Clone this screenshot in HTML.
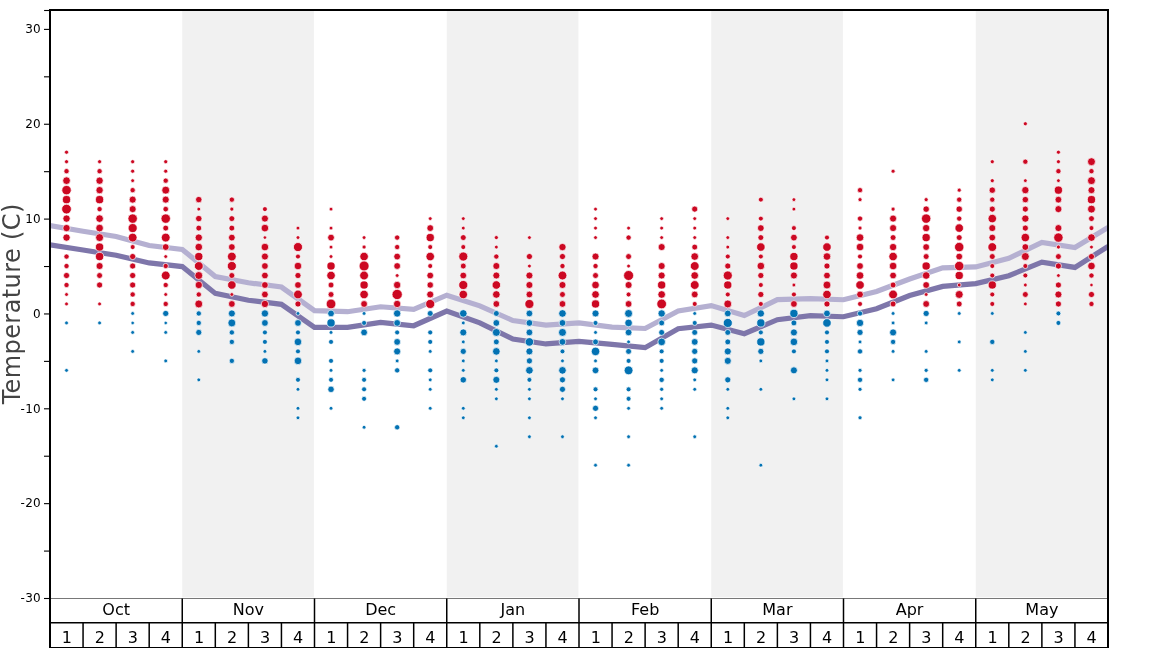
<!DOCTYPE html>
<html><head><meta charset="utf-8"><title>Temperature</title>
<style>html,body{margin:0;padding:0;background:#fff}svg{display:block}text{font-family:"DejaVu Sans","Liberation Sans",sans-serif}</style></head><body>
<svg width="1168" height="648" viewBox="0 0 1168 648">
<rect width="1168" height="648" fill="#fff"/>
<defs><clipPath id="ax"><rect x="50.00" y="10.00" width="1058.00" height="588.50"/></clipPath></defs>
<rect x="182.25" y="10.00" width="131.65" height="587.30" fill="#f1f1f1"/>
<rect x="446.75" y="10.00" width="131.65" height="587.30" fill="#f1f1f1"/>
<rect x="711.25" y="10.00" width="131.65" height="587.30" fill="#f1f1f1"/>
<rect x="975.75" y="10.00" width="131.65" height="587.30" fill="#f1f1f1"/>
<polyline clip-path="url(#ax)" points="50.00,225.58 83.06,231.27 116.12,236.49 149.19,245.50 182.25,249.39 215.31,276.51 248.38,282.77 281.44,287.04 314.50,310.56 347.56,311.70 380.62,306.77 413.69,309.43 446.75,295.20 479.81,305.82 512.88,320.52 545.94,325.17 579.00,322.90 612.06,327.07 645.12,328.49 678.19,311.04 711.25,305.63 744.31,315.59 777.38,299.66 810.44,298.61 843.50,299.75 876.56,291.50 909.62,279.07 942.69,267.79 975.75,266.93 1008.81,258.30 1041.88,242.46 1074.94,247.49 1108.00,227.57" fill="none" stroke="#b5b0d1" stroke-width="5.2" stroke-linejoin="miter"/>
<polyline clip-path="url(#ax)" points="50.00,244.83 83.06,250.05 116.12,255.27 149.19,262.95 182.25,266.55 215.31,293.40 248.38,300.23 281.44,304.30 314.50,327.35 347.56,327.35 380.62,322.33 413.69,325.74 446.75,311.04 479.81,322.80 512.88,339.11 545.94,343.95 579.00,341.39 612.06,344.33 645.12,347.65 678.19,328.78 711.25,325.08 744.31,333.71 777.38,319.67 810.44,315.59 843.50,316.73 876.56,308.76 909.62,295.58 942.69,286.38 975.75,283.63 1008.81,275.75 1041.88,262.19 1074.94,267.41 1108.00,246.35" fill="none" stroke="#7e76aa" stroke-width="5.2" stroke-linejoin="miter"/>
<g fill="#cc0822" stroke="#fff" stroke-width="0.7">
<circle cx="66.53" cy="152.20" r="2.03"/>
<circle cx="66.53" cy="161.69" r="2.03"/>
<circle cx="66.53" cy="171.18" r="2.62"/>
<circle cx="66.53" cy="180.66" r="3.80"/>
<circle cx="66.53" cy="190.14" r="4.69"/>
<circle cx="66.53" cy="199.63" r="4.10"/>
<circle cx="66.53" cy="209.12" r="4.84"/>
<circle cx="66.53" cy="218.60" r="3.65"/>
<circle cx="66.53" cy="228.08" r="3.65"/>
<circle cx="66.53" cy="237.57" r="3.65"/>
<circle cx="66.53" cy="256.54" r="2.62"/>
<circle cx="66.53" cy="266.02" r="2.62"/>
<circle cx="66.53" cy="275.51" r="3.06"/>
<circle cx="66.53" cy="285.00" r="2.62"/>
<circle cx="66.53" cy="294.48" r="1.88"/>
<circle cx="66.53" cy="303.96" r="1.88"/>
<circle cx="99.59" cy="161.69" r="2.03"/>
<circle cx="99.59" cy="171.18" r="2.62"/>
<circle cx="99.59" cy="180.66" r="3.65"/>
<circle cx="99.59" cy="190.14" r="3.65"/>
<circle cx="99.59" cy="199.63" r="4.10"/>
<circle cx="99.59" cy="209.12" r="2.62"/>
<circle cx="99.59" cy="218.60" r="3.80"/>
<circle cx="99.59" cy="228.08" r="3.80"/>
<circle cx="99.59" cy="237.57" r="3.95"/>
<circle cx="99.59" cy="247.06" r="4.10"/>
<circle cx="99.59" cy="256.54" r="4.10"/>
<circle cx="99.59" cy="266.02" r="3.51"/>
<circle cx="99.59" cy="275.51" r="2.92"/>
<circle cx="99.59" cy="285.00" r="3.06"/>
<circle cx="99.59" cy="303.96" r="1.88"/>
<circle cx="132.66" cy="161.69" r="2.03"/>
<circle cx="132.66" cy="171.18" r="2.03"/>
<circle cx="132.66" cy="180.66" r="1.88"/>
<circle cx="132.66" cy="190.14" r="2.62"/>
<circle cx="132.66" cy="199.63" r="3.51"/>
<circle cx="132.66" cy="209.12" r="3.51"/>
<circle cx="132.66" cy="218.60" r="4.69"/>
<circle cx="132.66" cy="228.08" r="4.54"/>
<circle cx="132.66" cy="237.57" r="4.39"/>
<circle cx="132.66" cy="247.06" r="2.47"/>
<circle cx="132.66" cy="256.54" r="3.06"/>
<circle cx="132.66" cy="266.02" r="3.06"/>
<circle cx="132.66" cy="275.51" r="3.06"/>
<circle cx="132.66" cy="285.00" r="3.06"/>
<circle cx="132.66" cy="294.48" r="2.62"/>
<circle cx="132.66" cy="303.96" r="2.62"/>
<circle cx="165.72" cy="161.69" r="2.03"/>
<circle cx="165.72" cy="171.18" r="2.03"/>
<circle cx="165.72" cy="180.66" r="2.62"/>
<circle cx="165.72" cy="190.14" r="3.95"/>
<circle cx="165.72" cy="199.63" r="3.51"/>
<circle cx="165.72" cy="209.12" r="2.77"/>
<circle cx="165.72" cy="218.60" r="4.69"/>
<circle cx="165.72" cy="228.08" r="2.92"/>
<circle cx="165.72" cy="237.57" r="4.39"/>
<circle cx="165.72" cy="247.06" r="3.36"/>
<circle cx="165.72" cy="256.54" r="1.88"/>
<circle cx="165.72" cy="266.02" r="2.62"/>
<circle cx="165.72" cy="275.51" r="4.39"/>
<circle cx="165.72" cy="285.00" r="2.62"/>
<circle cx="165.72" cy="294.48" r="1.88"/>
<circle cx="165.72" cy="303.96" r="2.62"/>
<circle cx="198.78" cy="199.63" r="3.21"/>
<circle cx="198.78" cy="209.12" r="1.88"/>
<circle cx="198.78" cy="218.60" r="3.21"/>
<circle cx="198.78" cy="228.08" r="2.92"/>
<circle cx="198.78" cy="237.57" r="3.65"/>
<circle cx="198.78" cy="247.06" r="3.80"/>
<circle cx="198.78" cy="256.54" r="4.10"/>
<circle cx="198.78" cy="266.02" r="4.39"/>
<circle cx="198.78" cy="275.51" r="3.95"/>
<circle cx="198.78" cy="285.00" r="3.65"/>
<circle cx="198.78" cy="294.48" r="2.62"/>
<circle cx="198.78" cy="303.96" r="3.95"/>
<circle cx="231.84" cy="199.63" r="2.62"/>
<circle cx="231.84" cy="209.12" r="2.03"/>
<circle cx="231.84" cy="218.60" r="2.92"/>
<circle cx="231.84" cy="228.08" r="2.92"/>
<circle cx="231.84" cy="237.57" r="3.36"/>
<circle cx="231.84" cy="247.06" r="3.36"/>
<circle cx="231.84" cy="256.54" r="4.39"/>
<circle cx="231.84" cy="266.02" r="4.54"/>
<circle cx="231.84" cy="275.51" r="2.92"/>
<circle cx="231.84" cy="285.00" r="4.24"/>
<circle cx="231.84" cy="294.48" r="1.88"/>
<circle cx="231.84" cy="303.96" r="3.36"/>
<circle cx="264.91" cy="209.12" r="2.47"/>
<circle cx="264.91" cy="218.60" r="3.51"/>
<circle cx="264.91" cy="228.08" r="3.80"/>
<circle cx="264.91" cy="237.57" r="1.73"/>
<circle cx="264.91" cy="247.06" r="3.80"/>
<circle cx="264.91" cy="256.54" r="3.51"/>
<circle cx="264.91" cy="266.02" r="3.36"/>
<circle cx="264.91" cy="275.51" r="3.36"/>
<circle cx="264.91" cy="285.00" r="3.36"/>
<circle cx="264.91" cy="294.48" r="3.36"/>
<circle cx="264.91" cy="303.96" r="3.65"/>
<circle cx="297.97" cy="228.08" r="1.88"/>
<circle cx="297.97" cy="237.57" r="1.88"/>
<circle cx="297.97" cy="247.06" r="4.54"/>
<circle cx="297.97" cy="256.54" r="2.47"/>
<circle cx="297.97" cy="266.02" r="3.80"/>
<circle cx="297.97" cy="275.51" r="3.06"/>
<circle cx="297.97" cy="285.00" r="3.36"/>
<circle cx="297.97" cy="294.48" r="4.39"/>
<circle cx="297.97" cy="303.96" r="3.06"/>
<circle cx="331.03" cy="209.12" r="1.88"/>
<circle cx="331.03" cy="228.08" r="1.88"/>
<circle cx="331.03" cy="237.57" r="3.36"/>
<circle cx="331.03" cy="247.06" r="1.88"/>
<circle cx="331.03" cy="256.54" r="1.88"/>
<circle cx="331.03" cy="266.02" r="4.10"/>
<circle cx="331.03" cy="275.51" r="4.24"/>
<circle cx="331.03" cy="285.00" r="2.92"/>
<circle cx="331.03" cy="294.48" r="2.92"/>
<circle cx="331.03" cy="303.96" r="4.84"/>
<circle cx="364.09" cy="237.57" r="1.88"/>
<circle cx="364.09" cy="247.06" r="2.03"/>
<circle cx="364.09" cy="256.54" r="4.24"/>
<circle cx="364.09" cy="266.02" r="4.98"/>
<circle cx="364.09" cy="275.51" r="4.39"/>
<circle cx="364.09" cy="285.00" r="4.10"/>
<circle cx="364.09" cy="294.48" r="4.24"/>
<circle cx="364.09" cy="303.96" r="3.36"/>
<circle cx="397.16" cy="237.57" r="2.62"/>
<circle cx="397.16" cy="247.06" r="2.62"/>
<circle cx="397.16" cy="256.54" r="3.36"/>
<circle cx="397.16" cy="266.02" r="3.36"/>
<circle cx="397.16" cy="275.51" r="1.88"/>
<circle cx="397.16" cy="285.00" r="3.65"/>
<circle cx="397.16" cy="294.48" r="5.13"/>
<circle cx="397.16" cy="303.96" r="3.65"/>
<circle cx="430.22" cy="218.60" r="1.88"/>
<circle cx="430.22" cy="228.08" r="3.36"/>
<circle cx="430.22" cy="237.57" r="4.10"/>
<circle cx="430.22" cy="247.06" r="2.47"/>
<circle cx="430.22" cy="256.54" r="4.24"/>
<circle cx="430.22" cy="266.02" r="2.47"/>
<circle cx="430.22" cy="275.51" r="3.36"/>
<circle cx="430.22" cy="285.00" r="3.21"/>
<circle cx="430.22" cy="294.48" r="3.51"/>
<circle cx="430.22" cy="303.96" r="4.54"/>
<circle cx="463.28" cy="218.60" r="1.88"/>
<circle cx="463.28" cy="228.08" r="1.88"/>
<circle cx="463.28" cy="237.57" r="2.92"/>
<circle cx="463.28" cy="247.06" r="2.47"/>
<circle cx="463.28" cy="256.54" r="4.54"/>
<circle cx="463.28" cy="266.02" r="2.92"/>
<circle cx="463.28" cy="275.51" r="3.36"/>
<circle cx="463.28" cy="285.00" r="4.54"/>
<circle cx="463.28" cy="294.48" r="4.24"/>
<circle cx="496.34" cy="237.57" r="2.03"/>
<circle cx="496.34" cy="247.06" r="1.88"/>
<circle cx="496.34" cy="256.54" r="2.62"/>
<circle cx="496.34" cy="266.02" r="3.51"/>
<circle cx="496.34" cy="275.51" r="3.51"/>
<circle cx="496.34" cy="285.00" r="4.24"/>
<circle cx="496.34" cy="294.48" r="3.80"/>
<circle cx="496.34" cy="303.96" r="3.36"/>
<circle cx="529.41" cy="237.57" r="1.88"/>
<circle cx="529.41" cy="256.54" r="3.06"/>
<circle cx="529.41" cy="266.02" r="1.88"/>
<circle cx="529.41" cy="275.51" r="3.51"/>
<circle cx="529.41" cy="285.00" r="3.51"/>
<circle cx="529.41" cy="294.48" r="3.36"/>
<circle cx="529.41" cy="303.96" r="4.54"/>
<circle cx="562.47" cy="247.06" r="3.65"/>
<circle cx="562.47" cy="256.54" r="3.06"/>
<circle cx="562.47" cy="266.02" r="2.62"/>
<circle cx="562.47" cy="275.51" r="4.39"/>
<circle cx="562.47" cy="285.00" r="3.51"/>
<circle cx="562.47" cy="294.48" r="2.92"/>
<circle cx="562.47" cy="303.96" r="3.36"/>
<circle cx="595.53" cy="209.12" r="1.88"/>
<circle cx="595.53" cy="218.60" r="1.88"/>
<circle cx="595.53" cy="228.08" r="1.88"/>
<circle cx="595.53" cy="237.57" r="1.88"/>
<circle cx="595.53" cy="256.54" r="3.51"/>
<circle cx="595.53" cy="266.02" r="2.62"/>
<circle cx="595.53" cy="275.51" r="2.92"/>
<circle cx="595.53" cy="285.00" r="3.80"/>
<circle cx="595.53" cy="294.48" r="3.80"/>
<circle cx="595.53" cy="303.96" r="4.10"/>
<circle cx="628.59" cy="228.08" r="1.88"/>
<circle cx="628.59" cy="237.57" r="2.62"/>
<circle cx="628.59" cy="256.54" r="2.92"/>
<circle cx="628.59" cy="266.02" r="1.88"/>
<circle cx="628.59" cy="275.51" r="4.98"/>
<circle cx="628.59" cy="285.00" r="3.51"/>
<circle cx="628.59" cy="294.48" r="2.47"/>
<circle cx="628.59" cy="303.96" r="3.36"/>
<circle cx="661.66" cy="218.60" r="1.88"/>
<circle cx="661.66" cy="228.08" r="1.88"/>
<circle cx="661.66" cy="237.57" r="1.88"/>
<circle cx="661.66" cy="247.06" r="3.51"/>
<circle cx="661.66" cy="266.02" r="3.51"/>
<circle cx="661.66" cy="275.51" r="3.51"/>
<circle cx="661.66" cy="285.00" r="4.10"/>
<circle cx="661.66" cy="294.48" r="3.80"/>
<circle cx="661.66" cy="303.96" r="4.84"/>
<circle cx="694.72" cy="209.12" r="3.06"/>
<circle cx="694.72" cy="218.60" r="1.88"/>
<circle cx="694.72" cy="228.08" r="1.88"/>
<circle cx="694.72" cy="237.57" r="1.88"/>
<circle cx="694.72" cy="247.06" r="2.92"/>
<circle cx="694.72" cy="256.54" r="3.80"/>
<circle cx="694.72" cy="266.02" r="4.39"/>
<circle cx="694.72" cy="275.51" r="3.80"/>
<circle cx="694.72" cy="285.00" r="4.39"/>
<circle cx="694.72" cy="294.48" r="3.36"/>
<circle cx="694.72" cy="303.96" r="2.47"/>
<circle cx="727.78" cy="218.60" r="1.88"/>
<circle cx="727.78" cy="237.57" r="1.88"/>
<circle cx="727.78" cy="247.06" r="1.88"/>
<circle cx="727.78" cy="256.54" r="2.47"/>
<circle cx="727.78" cy="266.02" r="3.06"/>
<circle cx="727.78" cy="275.51" r="4.54"/>
<circle cx="727.78" cy="285.00" r="4.10"/>
<circle cx="727.78" cy="294.48" r="2.47"/>
<circle cx="727.78" cy="303.96" r="3.95"/>
<circle cx="760.84" cy="199.63" r="2.47"/>
<circle cx="760.84" cy="218.60" r="2.47"/>
<circle cx="760.84" cy="228.08" r="3.36"/>
<circle cx="760.84" cy="237.57" r="2.92"/>
<circle cx="760.84" cy="247.06" r="4.24"/>
<circle cx="760.84" cy="256.54" r="2.47"/>
<circle cx="760.84" cy="266.02" r="3.80"/>
<circle cx="760.84" cy="275.51" r="3.06"/>
<circle cx="760.84" cy="285.00" r="2.47"/>
<circle cx="760.84" cy="294.48" r="3.06"/>
<circle cx="760.84" cy="303.96" r="2.47"/>
<circle cx="793.91" cy="199.63" r="1.88"/>
<circle cx="793.91" cy="209.12" r="1.88"/>
<circle cx="793.91" cy="228.08" r="2.47"/>
<circle cx="793.91" cy="237.57" r="3.36"/>
<circle cx="793.91" cy="247.06" r="2.47"/>
<circle cx="793.91" cy="256.54" r="4.10"/>
<circle cx="793.91" cy="266.02" r="4.10"/>
<circle cx="793.91" cy="275.51" r="3.51"/>
<circle cx="793.91" cy="285.00" r="1.88"/>
<circle cx="793.91" cy="294.48" r="2.47"/>
<circle cx="793.91" cy="303.96" r="3.36"/>
<circle cx="826.97" cy="237.57" r="2.47"/>
<circle cx="826.97" cy="247.06" r="4.24"/>
<circle cx="826.97" cy="256.54" r="3.80"/>
<circle cx="826.97" cy="266.02" r="3.06"/>
<circle cx="826.97" cy="275.51" r="3.36"/>
<circle cx="826.97" cy="285.00" r="3.95"/>
<circle cx="826.97" cy="294.48" r="4.24"/>
<circle cx="826.97" cy="303.96" r="3.06"/>
<circle cx="860.03" cy="190.14" r="2.62"/>
<circle cx="860.03" cy="199.63" r="2.03"/>
<circle cx="860.03" cy="218.60" r="2.62"/>
<circle cx="860.03" cy="228.08" r="2.03"/>
<circle cx="860.03" cy="237.57" r="3.80"/>
<circle cx="860.03" cy="247.06" r="3.80"/>
<circle cx="860.03" cy="256.54" r="2.47"/>
<circle cx="860.03" cy="266.02" r="3.36"/>
<circle cx="860.03" cy="275.51" r="3.80"/>
<circle cx="860.03" cy="285.00" r="4.24"/>
<circle cx="860.03" cy="294.48" r="3.36"/>
<circle cx="860.03" cy="303.96" r="2.47"/>
<circle cx="893.09" cy="171.18" r="2.03"/>
<circle cx="893.09" cy="209.12" r="2.03"/>
<circle cx="893.09" cy="218.60" r="3.51"/>
<circle cx="893.09" cy="228.08" r="3.51"/>
<circle cx="893.09" cy="237.57" r="2.92"/>
<circle cx="893.09" cy="247.06" r="3.65"/>
<circle cx="893.09" cy="256.54" r="4.24"/>
<circle cx="893.09" cy="266.02" r="3.80"/>
<circle cx="893.09" cy="275.51" r="3.36"/>
<circle cx="893.09" cy="285.00" r="2.92"/>
<circle cx="893.09" cy="294.48" r="4.39"/>
<circle cx="893.09" cy="303.96" r="2.92"/>
<circle cx="926.16" cy="199.63" r="2.03"/>
<circle cx="926.16" cy="209.12" r="3.21"/>
<circle cx="926.16" cy="218.60" r="4.69"/>
<circle cx="926.16" cy="228.08" r="3.65"/>
<circle cx="926.16" cy="237.57" r="4.10"/>
<circle cx="926.16" cy="247.06" r="3.36"/>
<circle cx="926.16" cy="256.54" r="2.92"/>
<circle cx="926.16" cy="266.02" r="4.10"/>
<circle cx="926.16" cy="275.51" r="3.80"/>
<circle cx="926.16" cy="285.00" r="3.36"/>
<circle cx="926.16" cy="294.48" r="1.88"/>
<circle cx="926.16" cy="303.96" r="3.36"/>
<circle cx="959.22" cy="190.14" r="2.03"/>
<circle cx="959.22" cy="199.63" r="2.62"/>
<circle cx="959.22" cy="209.12" r="3.21"/>
<circle cx="959.22" cy="218.60" r="2.62"/>
<circle cx="959.22" cy="228.08" r="4.24"/>
<circle cx="959.22" cy="237.57" r="2.92"/>
<circle cx="959.22" cy="247.06" r="4.69"/>
<circle cx="959.22" cy="256.54" r="3.36"/>
<circle cx="959.22" cy="266.02" r="4.69"/>
<circle cx="959.22" cy="275.51" r="4.10"/>
<circle cx="959.22" cy="285.00" r="1.88"/>
<circle cx="959.22" cy="294.48" r="3.95"/>
<circle cx="959.22" cy="303.96" r="2.92"/>
<circle cx="992.28" cy="161.69" r="2.03"/>
<circle cx="992.28" cy="180.66" r="2.03"/>
<circle cx="992.28" cy="190.14" r="3.21"/>
<circle cx="992.28" cy="199.63" r="2.62"/>
<circle cx="992.28" cy="209.12" r="3.06"/>
<circle cx="992.28" cy="218.60" r="4.24"/>
<circle cx="992.28" cy="228.08" r="3.51"/>
<circle cx="992.28" cy="237.57" r="3.36"/>
<circle cx="992.28" cy="247.06" r="4.39"/>
<circle cx="992.28" cy="256.54" r="2.92"/>
<circle cx="992.28" cy="266.02" r="2.47"/>
<circle cx="992.28" cy="275.51" r="2.47"/>
<circle cx="992.28" cy="285.00" r="4.10"/>
<circle cx="992.28" cy="294.48" r="2.47"/>
<circle cx="992.28" cy="303.96" r="2.47"/>
<circle cx="1025.34" cy="123.75" r="2.03"/>
<circle cx="1025.34" cy="161.69" r="2.62"/>
<circle cx="1025.34" cy="180.66" r="1.88"/>
<circle cx="1025.34" cy="190.14" r="3.65"/>
<circle cx="1025.34" cy="199.63" r="3.21"/>
<circle cx="1025.34" cy="209.12" r="3.06"/>
<circle cx="1025.34" cy="218.60" r="3.65"/>
<circle cx="1025.34" cy="228.08" r="3.06"/>
<circle cx="1025.34" cy="237.57" r="4.24"/>
<circle cx="1025.34" cy="247.06" r="3.36"/>
<circle cx="1025.34" cy="256.54" r="3.95"/>
<circle cx="1025.34" cy="266.02" r="2.47"/>
<circle cx="1025.34" cy="275.51" r="2.47"/>
<circle cx="1025.34" cy="285.00" r="1.88"/>
<circle cx="1025.34" cy="294.48" r="2.92"/>
<circle cx="1025.34" cy="303.96" r="1.88"/>
<circle cx="1058.41" cy="152.20" r="2.03"/>
<circle cx="1058.41" cy="161.69" r="2.03"/>
<circle cx="1058.41" cy="171.18" r="2.62"/>
<circle cx="1058.41" cy="180.66" r="1.88"/>
<circle cx="1058.41" cy="190.14" r="4.10"/>
<circle cx="1058.41" cy="199.63" r="3.36"/>
<circle cx="1058.41" cy="209.12" r="3.51"/>
<circle cx="1058.41" cy="228.08" r="3.51"/>
<circle cx="1058.41" cy="237.57" r="4.69"/>
<circle cx="1058.41" cy="247.06" r="2.03"/>
<circle cx="1058.41" cy="256.54" r="2.92"/>
<circle cx="1058.41" cy="266.02" r="3.06"/>
<circle cx="1058.41" cy="275.51" r="1.88"/>
<circle cx="1058.41" cy="285.00" r="3.06"/>
<circle cx="1058.41" cy="294.48" r="3.51"/>
<circle cx="1058.41" cy="303.96" r="3.06"/>
<circle cx="1091.47" cy="161.69" r="3.95"/>
<circle cx="1091.47" cy="171.18" r="2.62"/>
<circle cx="1091.47" cy="180.66" r="3.95"/>
<circle cx="1091.47" cy="190.14" r="3.51"/>
<circle cx="1091.47" cy="199.63" r="4.10"/>
<circle cx="1091.47" cy="209.12" r="3.95"/>
<circle cx="1091.47" cy="218.60" r="2.92"/>
<circle cx="1091.47" cy="228.08" r="2.47"/>
<circle cx="1091.47" cy="237.57" r="3.80"/>
<circle cx="1091.47" cy="247.06" r="1.88"/>
<circle cx="1091.47" cy="256.54" r="3.06"/>
<circle cx="1091.47" cy="266.02" r="3.80"/>
<circle cx="1091.47" cy="275.51" r="2.62"/>
<circle cx="1091.47" cy="285.00" r="1.73"/>
<circle cx="1091.47" cy="294.48" r="3.06"/>
<circle cx="1091.47" cy="303.96" r="2.62"/>
</g>
<g fill="#0372b3" stroke="#fff" stroke-width="0.7">
<circle cx="66.53" cy="322.94" r="1.88"/>
<circle cx="66.53" cy="370.36" r="1.88"/>
<circle cx="99.59" cy="322.94" r="1.88"/>
<circle cx="132.66" cy="313.45" r="1.88"/>
<circle cx="132.66" cy="322.94" r="1.73"/>
<circle cx="132.66" cy="332.42" r="1.88"/>
<circle cx="132.66" cy="351.39" r="1.88"/>
<circle cx="165.72" cy="313.45" r="3.06"/>
<circle cx="165.72" cy="322.94" r="1.73"/>
<circle cx="165.72" cy="332.42" r="1.88"/>
<circle cx="165.72" cy="360.88" r="1.88"/>
<circle cx="198.78" cy="313.45" r="2.62"/>
<circle cx="198.78" cy="322.94" r="2.62"/>
<circle cx="198.78" cy="332.42" r="3.06"/>
<circle cx="198.78" cy="351.39" r="1.88"/>
<circle cx="198.78" cy="379.84" r="1.88"/>
<circle cx="231.84" cy="313.45" r="3.51"/>
<circle cx="231.84" cy="322.94" r="3.95"/>
<circle cx="231.84" cy="332.42" r="2.62"/>
<circle cx="231.84" cy="341.90" r="2.62"/>
<circle cx="231.84" cy="360.88" r="2.62"/>
<circle cx="264.91" cy="313.45" r="3.65"/>
<circle cx="264.91" cy="322.94" r="3.36"/>
<circle cx="264.91" cy="332.42" r="2.47"/>
<circle cx="264.91" cy="341.90" r="2.47"/>
<circle cx="264.91" cy="351.39" r="1.88"/>
<circle cx="264.91" cy="360.88" r="3.21"/>
<circle cx="297.97" cy="313.45" r="1.88"/>
<circle cx="297.97" cy="322.94" r="3.36"/>
<circle cx="297.97" cy="332.42" r="2.47"/>
<circle cx="297.97" cy="341.90" r="3.80"/>
<circle cx="297.97" cy="351.39" r="2.47"/>
<circle cx="297.97" cy="360.88" r="3.80"/>
<circle cx="297.97" cy="379.84" r="2.47"/>
<circle cx="297.97" cy="389.33" r="1.88"/>
<circle cx="297.97" cy="408.30" r="1.88"/>
<circle cx="297.97" cy="417.78" r="1.88"/>
<circle cx="331.03" cy="313.45" r="3.36"/>
<circle cx="331.03" cy="322.94" r="4.10"/>
<circle cx="331.03" cy="332.42" r="1.88"/>
<circle cx="331.03" cy="341.90" r="2.47"/>
<circle cx="331.03" cy="360.88" r="2.47"/>
<circle cx="331.03" cy="370.36" r="1.88"/>
<circle cx="331.03" cy="379.84" r="2.47"/>
<circle cx="331.03" cy="389.33" r="3.21"/>
<circle cx="331.03" cy="408.30" r="1.88"/>
<circle cx="364.09" cy="313.45" r="1.88"/>
<circle cx="364.09" cy="322.94" r="2.47"/>
<circle cx="364.09" cy="332.42" r="3.36"/>
<circle cx="364.09" cy="370.36" r="2.03"/>
<circle cx="364.09" cy="379.84" r="2.47"/>
<circle cx="364.09" cy="389.33" r="2.47"/>
<circle cx="364.09" cy="398.81" r="2.47"/>
<circle cx="364.09" cy="427.27" r="1.88"/>
<circle cx="397.16" cy="313.45" r="3.65"/>
<circle cx="397.16" cy="322.94" r="3.36"/>
<circle cx="397.16" cy="332.42" r="2.47"/>
<circle cx="397.16" cy="341.90" r="3.36"/>
<circle cx="397.16" cy="351.39" r="3.51"/>
<circle cx="397.16" cy="360.88" r="1.88"/>
<circle cx="397.16" cy="370.36" r="2.62"/>
<circle cx="397.16" cy="427.27" r="2.62"/>
<circle cx="430.22" cy="313.45" r="2.92"/>
<circle cx="430.22" cy="332.42" r="2.47"/>
<circle cx="430.22" cy="341.90" r="2.47"/>
<circle cx="430.22" cy="351.39" r="1.88"/>
<circle cx="430.22" cy="370.36" r="2.47"/>
<circle cx="430.22" cy="379.84" r="1.88"/>
<circle cx="430.22" cy="389.33" r="1.88"/>
<circle cx="430.22" cy="408.30" r="1.88"/>
<circle cx="463.28" cy="313.45" r="3.80"/>
<circle cx="463.28" cy="322.94" r="1.88"/>
<circle cx="463.28" cy="332.42" r="3.51"/>
<circle cx="463.28" cy="341.90" r="1.88"/>
<circle cx="463.28" cy="351.39" r="3.06"/>
<circle cx="463.28" cy="360.88" r="1.88"/>
<circle cx="463.28" cy="370.36" r="1.88"/>
<circle cx="463.28" cy="379.84" r="3.21"/>
<circle cx="463.28" cy="408.30" r="1.88"/>
<circle cx="463.28" cy="417.78" r="1.88"/>
<circle cx="496.34" cy="313.45" r="2.92"/>
<circle cx="496.34" cy="322.94" r="3.36"/>
<circle cx="496.34" cy="332.42" r="3.95"/>
<circle cx="496.34" cy="341.90" r="2.92"/>
<circle cx="496.34" cy="351.39" r="3.80"/>
<circle cx="496.34" cy="360.88" r="1.88"/>
<circle cx="496.34" cy="370.36" r="2.47"/>
<circle cx="496.34" cy="379.84" r="3.51"/>
<circle cx="496.34" cy="389.33" r="1.88"/>
<circle cx="496.34" cy="398.81" r="1.88"/>
<circle cx="496.34" cy="446.24" r="1.88"/>
<circle cx="529.41" cy="313.45" r="3.36"/>
<circle cx="529.41" cy="322.94" r="3.36"/>
<circle cx="529.41" cy="332.42" r="3.36"/>
<circle cx="529.41" cy="341.90" r="4.24"/>
<circle cx="529.41" cy="351.39" r="3.51"/>
<circle cx="529.41" cy="360.88" r="3.06"/>
<circle cx="529.41" cy="370.36" r="3.80"/>
<circle cx="529.41" cy="379.84" r="2.47"/>
<circle cx="529.41" cy="389.33" r="1.88"/>
<circle cx="529.41" cy="398.81" r="1.88"/>
<circle cx="529.41" cy="417.78" r="1.88"/>
<circle cx="529.41" cy="436.75" r="1.88"/>
<circle cx="562.47" cy="313.45" r="3.80"/>
<circle cx="562.47" cy="322.94" r="3.36"/>
<circle cx="562.47" cy="332.42" r="3.95"/>
<circle cx="562.47" cy="341.90" r="3.36"/>
<circle cx="562.47" cy="351.39" r="2.47"/>
<circle cx="562.47" cy="360.88" r="1.88"/>
<circle cx="562.47" cy="370.36" r="3.80"/>
<circle cx="562.47" cy="379.84" r="3.06"/>
<circle cx="562.47" cy="389.33" r="3.06"/>
<circle cx="562.47" cy="398.81" r="1.88"/>
<circle cx="562.47" cy="436.75" r="1.88"/>
<circle cx="595.53" cy="313.45" r="3.51"/>
<circle cx="595.53" cy="322.94" r="2.47"/>
<circle cx="595.53" cy="332.42" r="1.88"/>
<circle cx="595.53" cy="341.90" r="2.92"/>
<circle cx="595.53" cy="351.39" r="4.24"/>
<circle cx="595.53" cy="360.88" r="1.88"/>
<circle cx="595.53" cy="370.36" r="3.36"/>
<circle cx="595.53" cy="389.33" r="2.47"/>
<circle cx="595.53" cy="398.81" r="1.88"/>
<circle cx="595.53" cy="408.30" r="3.06"/>
<circle cx="595.53" cy="417.78" r="1.88"/>
<circle cx="595.53" cy="465.21" r="1.88"/>
<circle cx="628.59" cy="313.45" r="3.95"/>
<circle cx="628.59" cy="322.94" r="3.80"/>
<circle cx="628.59" cy="332.42" r="3.36"/>
<circle cx="628.59" cy="341.90" r="1.88"/>
<circle cx="628.59" cy="351.39" r="2.92"/>
<circle cx="628.59" cy="360.88" r="2.47"/>
<circle cx="628.59" cy="370.36" r="4.39"/>
<circle cx="628.59" cy="389.33" r="2.47"/>
<circle cx="628.59" cy="398.81" r="2.47"/>
<circle cx="628.59" cy="408.30" r="1.88"/>
<circle cx="628.59" cy="436.75" r="1.88"/>
<circle cx="628.59" cy="465.21" r="1.88"/>
<circle cx="661.66" cy="313.45" r="3.65"/>
<circle cx="661.66" cy="322.94" r="2.92"/>
<circle cx="661.66" cy="332.42" r="2.92"/>
<circle cx="661.66" cy="341.90" r="3.80"/>
<circle cx="661.66" cy="351.39" r="2.47"/>
<circle cx="661.66" cy="360.88" r="2.47"/>
<circle cx="661.66" cy="370.36" r="1.88"/>
<circle cx="661.66" cy="379.84" r="2.62"/>
<circle cx="661.66" cy="389.33" r="2.03"/>
<circle cx="661.66" cy="398.81" r="1.88"/>
<circle cx="661.66" cy="408.30" r="1.88"/>
<circle cx="694.72" cy="313.45" r="1.88"/>
<circle cx="694.72" cy="322.94" r="2.47"/>
<circle cx="694.72" cy="332.42" r="2.92"/>
<circle cx="694.72" cy="341.90" r="3.36"/>
<circle cx="694.72" cy="351.39" r="3.06"/>
<circle cx="694.72" cy="360.88" r="3.06"/>
<circle cx="694.72" cy="370.36" r="3.51"/>
<circle cx="694.72" cy="379.84" r="1.88"/>
<circle cx="694.72" cy="389.33" r="1.88"/>
<circle cx="694.72" cy="436.75" r="1.88"/>
<circle cx="727.78" cy="313.45" r="3.36"/>
<circle cx="727.78" cy="322.94" r="4.54"/>
<circle cx="727.78" cy="332.42" r="2.92"/>
<circle cx="727.78" cy="341.90" r="2.92"/>
<circle cx="727.78" cy="351.39" r="3.51"/>
<circle cx="727.78" cy="360.88" r="3.51"/>
<circle cx="727.78" cy="379.84" r="3.06"/>
<circle cx="727.78" cy="389.33" r="1.88"/>
<circle cx="727.78" cy="408.30" r="1.88"/>
<circle cx="727.78" cy="417.78" r="1.88"/>
<circle cx="760.84" cy="313.45" r="3.65"/>
<circle cx="760.84" cy="322.94" r="4.10"/>
<circle cx="760.84" cy="332.42" r="2.47"/>
<circle cx="760.84" cy="341.90" r="4.10"/>
<circle cx="760.84" cy="351.39" r="3.06"/>
<circle cx="760.84" cy="360.88" r="1.88"/>
<circle cx="760.84" cy="389.33" r="1.88"/>
<circle cx="760.84" cy="465.21" r="1.88"/>
<circle cx="793.91" cy="313.45" r="4.10"/>
<circle cx="793.91" cy="322.94" r="2.92"/>
<circle cx="793.91" cy="332.42" r="3.51"/>
<circle cx="793.91" cy="341.90" r="3.80"/>
<circle cx="793.91" cy="351.39" r="2.47"/>
<circle cx="793.91" cy="370.36" r="3.51"/>
<circle cx="793.91" cy="398.81" r="1.88"/>
<circle cx="826.97" cy="313.45" r="3.36"/>
<circle cx="826.97" cy="322.94" r="4.24"/>
<circle cx="826.97" cy="332.42" r="2.47"/>
<circle cx="826.97" cy="341.90" r="2.47"/>
<circle cx="826.97" cy="351.39" r="2.47"/>
<circle cx="826.97" cy="360.88" r="1.88"/>
<circle cx="826.97" cy="370.36" r="1.88"/>
<circle cx="826.97" cy="379.84" r="1.88"/>
<circle cx="826.97" cy="398.81" r="1.88"/>
<circle cx="860.03" cy="313.45" r="2.62"/>
<circle cx="860.03" cy="322.94" r="3.65"/>
<circle cx="860.03" cy="332.42" r="3.06"/>
<circle cx="860.03" cy="341.90" r="1.88"/>
<circle cx="860.03" cy="351.39" r="2.62"/>
<circle cx="860.03" cy="370.36" r="2.03"/>
<circle cx="860.03" cy="379.84" r="2.62"/>
<circle cx="860.03" cy="389.33" r="2.03"/>
<circle cx="860.03" cy="417.78" r="2.03"/>
<circle cx="893.09" cy="313.45" r="1.88"/>
<circle cx="893.09" cy="322.94" r="1.88"/>
<circle cx="893.09" cy="332.42" r="3.51"/>
<circle cx="893.09" cy="341.90" r="2.62"/>
<circle cx="893.09" cy="351.39" r="1.88"/>
<circle cx="893.09" cy="379.84" r="1.88"/>
<circle cx="926.16" cy="313.45" r="3.06"/>
<circle cx="926.16" cy="322.94" r="1.88"/>
<circle cx="926.16" cy="351.39" r="1.88"/>
<circle cx="926.16" cy="370.36" r="2.03"/>
<circle cx="926.16" cy="379.84" r="2.62"/>
<circle cx="959.22" cy="313.45" r="1.88"/>
<circle cx="959.22" cy="341.90" r="1.88"/>
<circle cx="959.22" cy="370.36" r="1.88"/>
<circle cx="992.28" cy="313.45" r="1.88"/>
<circle cx="992.28" cy="341.90" r="2.62"/>
<circle cx="992.28" cy="370.36" r="1.88"/>
<circle cx="992.28" cy="379.84" r="1.88"/>
<circle cx="1025.34" cy="332.42" r="1.88"/>
<circle cx="1025.34" cy="351.39" r="1.88"/>
<circle cx="1025.34" cy="370.36" r="1.88"/>
<circle cx="1058.41" cy="313.45" r="2.47"/>
<circle cx="1058.41" cy="322.94" r="2.47"/>
</g>
<line x1="50.00" y1="598.50" x2="1108.00" y2="598.50" stroke="#555" stroke-width="0.8"/>
<g stroke="#000" fill="none">
<line x1="50.00" y1="622.75" x2="1108.00" y2="622.75" stroke-width="1.7"/>
<line x1="50.00" y1="648" x2="1108.00" y2="648" stroke-width="2"/>
<line x1="182.25" y1="598.50" x2="182.25" y2="648" stroke-width="1.5"/>
<line x1="314.50" y1="598.50" x2="314.50" y2="648" stroke-width="1.5"/>
<line x1="446.75" y1="598.50" x2="446.75" y2="648" stroke-width="1.5"/>
<line x1="579.00" y1="598.50" x2="579.00" y2="648" stroke-width="1.5"/>
<line x1="711.25" y1="598.50" x2="711.25" y2="648" stroke-width="1.5"/>
<line x1="843.50" y1="598.50" x2="843.50" y2="648" stroke-width="1.5"/>
<line x1="975.75" y1="598.50" x2="975.75" y2="648" stroke-width="1.5"/>
<line x1="83.06" y1="622.75" x2="83.06" y2="648" stroke-width="1.5"/>
<line x1="116.12" y1="622.75" x2="116.12" y2="648" stroke-width="1.5"/>
<line x1="149.19" y1="622.75" x2="149.19" y2="648" stroke-width="1.5"/>
<line x1="215.31" y1="622.75" x2="215.31" y2="648" stroke-width="1.5"/>
<line x1="248.38" y1="622.75" x2="248.38" y2="648" stroke-width="1.5"/>
<line x1="281.44" y1="622.75" x2="281.44" y2="648" stroke-width="1.5"/>
<line x1="347.56" y1="622.75" x2="347.56" y2="648" stroke-width="1.5"/>
<line x1="380.62" y1="622.75" x2="380.62" y2="648" stroke-width="1.5"/>
<line x1="413.69" y1="622.75" x2="413.69" y2="648" stroke-width="1.5"/>
<line x1="479.81" y1="622.75" x2="479.81" y2="648" stroke-width="1.5"/>
<line x1="512.88" y1="622.75" x2="512.88" y2="648" stroke-width="1.5"/>
<line x1="545.94" y1="622.75" x2="545.94" y2="648" stroke-width="1.5"/>
<line x1="612.06" y1="622.75" x2="612.06" y2="648" stroke-width="1.5"/>
<line x1="645.12" y1="622.75" x2="645.12" y2="648" stroke-width="1.5"/>
<line x1="678.19" y1="622.75" x2="678.19" y2="648" stroke-width="1.5"/>
<line x1="744.31" y1="622.75" x2="744.31" y2="648" stroke-width="1.5"/>
<line x1="777.38" y1="622.75" x2="777.38" y2="648" stroke-width="1.5"/>
<line x1="810.44" y1="622.75" x2="810.44" y2="648" stroke-width="1.5"/>
<line x1="876.56" y1="622.75" x2="876.56" y2="648" stroke-width="1.5"/>
<line x1="909.62" y1="622.75" x2="909.62" y2="648" stroke-width="1.5"/>
<line x1="942.69" y1="622.75" x2="942.69" y2="648" stroke-width="1.5"/>
<line x1="1008.81" y1="622.75" x2="1008.81" y2="648" stroke-width="1.5"/>
<line x1="1041.88" y1="622.75" x2="1041.88" y2="648" stroke-width="1.5"/>
<line x1="1074.94" y1="622.75" x2="1074.94" y2="648" stroke-width="1.5"/>
<line x1="50.00" y1="9.00" x2="50.00" y2="648" stroke-width="2"/>
<line x1="1108.00" y1="9.00" x2="1108.00" y2="648" stroke-width="2"/>
<line x1="49.00" y1="10.00" x2="1109.00" y2="10.00" stroke-width="2"/>
</g>
<g stroke="#000" stroke-width="1.1">
<line x1="44.0" y1="598.50" x2="49.2" y2="598.50"/>
<line x1="44.0" y1="551.08" x2="49.2" y2="551.08"/>
<line x1="44.0" y1="503.65" x2="49.2" y2="503.65"/>
<line x1="44.0" y1="456.22" x2="49.2" y2="456.22"/>
<line x1="44.0" y1="408.80" x2="49.2" y2="408.80"/>
<line x1="44.0" y1="361.38" x2="49.2" y2="361.38"/>
<line x1="44.0" y1="313.95" x2="49.2" y2="313.95"/>
<line x1="44.0" y1="266.52" x2="49.2" y2="266.52"/>
<line x1="44.0" y1="219.10" x2="49.2" y2="219.10"/>
<line x1="44.0" y1="171.68" x2="49.2" y2="171.68"/>
<line x1="44.0" y1="124.25" x2="49.2" y2="124.25"/>
<line x1="44.0" y1="76.82" x2="49.2" y2="76.82"/>
<line x1="44.0" y1="29.40" x2="49.2" y2="29.40"/>
<line x1="44.1" y1="10.5" x2="49.2" y2="10.5"/>
</g>
<g font-size="12" letter-spacing="0.3" text-anchor="end" fill="#000">
<text x="41.0" y="602.20">-30</text>
<text x="41.0" y="507.35">-20</text>
<text x="41.0" y="412.50">-10</text>
<text x="41.0" y="317.65">0</text>
<text x="41.0" y="222.80">10</text>
<text x="41.0" y="127.95">20</text>
<text x="41.0" y="33.10">30</text>
</g>
<g font-size="16" text-anchor="middle" fill="#000">
<text x="116.12" y="614.8">Oct</text>
<text x="248.38" y="614.8">Nov</text>
<text x="380.62" y="614.8">Dec</text>
<text x="512.88" y="614.8">Jan</text>
<text x="645.12" y="614.8">Feb</text>
<text x="777.38" y="614.8">Mar</text>
<text x="909.62" y="614.8">Apr</text>
<text x="1041.88" y="614.8">May</text>
<text x="66.73" y="643.0">1</text>
<text x="99.79" y="643.0">2</text>
<text x="132.86" y="643.0">3</text>
<text x="165.92" y="643.0">4</text>
<text x="198.98" y="643.0">1</text>
<text x="232.04" y="643.0">2</text>
<text x="265.11" y="643.0">3</text>
<text x="298.17" y="643.0">4</text>
<text x="331.23" y="643.0">1</text>
<text x="364.29" y="643.0">2</text>
<text x="397.36" y="643.0">3</text>
<text x="430.42" y="643.0">4</text>
<text x="463.48" y="643.0">1</text>
<text x="496.54" y="643.0">2</text>
<text x="529.61" y="643.0">3</text>
<text x="562.67" y="643.0">4</text>
<text x="595.73" y="643.0">1</text>
<text x="628.79" y="643.0">2</text>
<text x="661.86" y="643.0">3</text>
<text x="694.92" y="643.0">4</text>
<text x="727.98" y="643.0">1</text>
<text x="761.04" y="643.0">2</text>
<text x="794.11" y="643.0">3</text>
<text x="827.17" y="643.0">4</text>
<text x="860.23" y="643.0">1</text>
<text x="893.29" y="643.0">2</text>
<text x="926.36" y="643.0">3</text>
<text x="959.42" y="643.0">4</text>
<text x="992.48" y="643.0">1</text>
<text x="1025.54" y="643.0">2</text>
<text x="1058.61" y="643.0">3</text>
<text x="1091.67" y="643.0">4</text>
</g>
<text transform="translate(19.75,303.8) rotate(-90)" font-size="24" letter-spacing="0.4" text-anchor="middle" fill="#444">Temperature (C)</text>
</svg></body></html>
